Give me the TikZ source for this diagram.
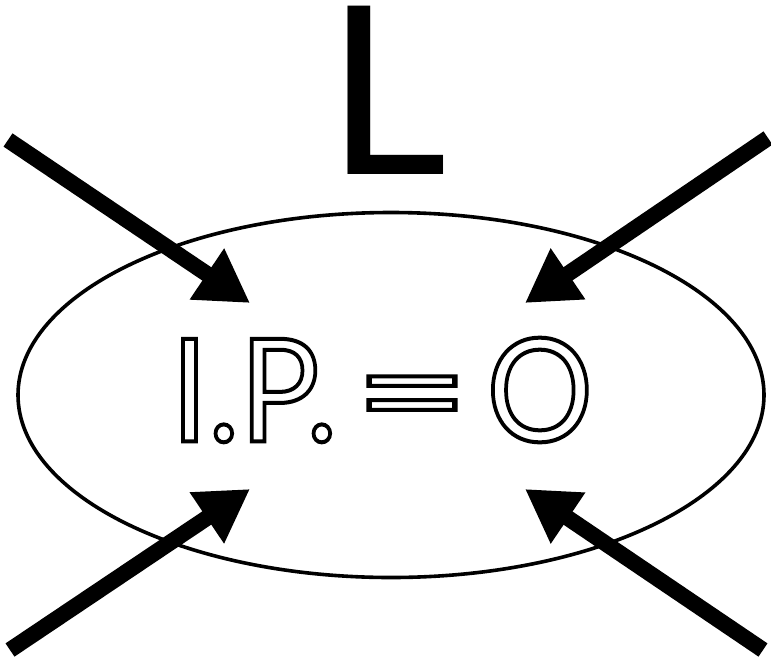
\documentclass[tikz,border=0pt]{standalone}
\usepackage{fontspec}
\setmainfont{Lato}
\usetikzlibrary{arrows.meta,shapes.geometric}
\newcommand{\hollow}[1]{\special{pdf:literal direct 1 Tr 4 w}#1\special{pdf:literal direct 0 Tr}}

\begin{document}
\begin{tikzpicture}[x=1pt,y=-1pt,
  inward/.style={-{Triangle[length=52pt,width=58pt]},line width=16pt},
  ring/.style={draw,ellipse,line width=3.6pt,minimum width=746pt,
    minimum height=365pt,inner sep=0pt}]
  \useasboundingbox (0,0) rectangle (771,659);
  \node[ring] (ipo) at (391,395) {};
  \node[font=\fontsize{143}{150}\selectfont,inner sep=0pt] (eq) at (382,390)
    {\scalebox{0.93}[1]{\hollow{I.P.\hspace{-0.13em} \scalebox{1.5}[1]{=}\hspace{-0.13em} O}}};
  \node[font=\fontsize{235}{240}\selectfont,inner sep=0pt,anchor=base] (lab) at (387,174) {L};
  % free ends and tips of the four arrows
  \coordinate (nw) at (8,140);   \coordinate (nwtip) at (250,303);
  \coordinate (ne) at (768,138); \coordinate (netip) at (525,303);
  \coordinate (sw) at (10,650);  \coordinate (swtip) at (250,489);
  \coordinate (se) at (763,650); \coordinate (setip) at (525,489);
  \draw[inward] (nw) -- (nwtip);
  \draw[inward] (ne) -- (netip);
  \draw[inward] (sw) -- (swtip);
  \draw[inward] (se) -- (setip);
\end{tikzpicture}
\end{document}
